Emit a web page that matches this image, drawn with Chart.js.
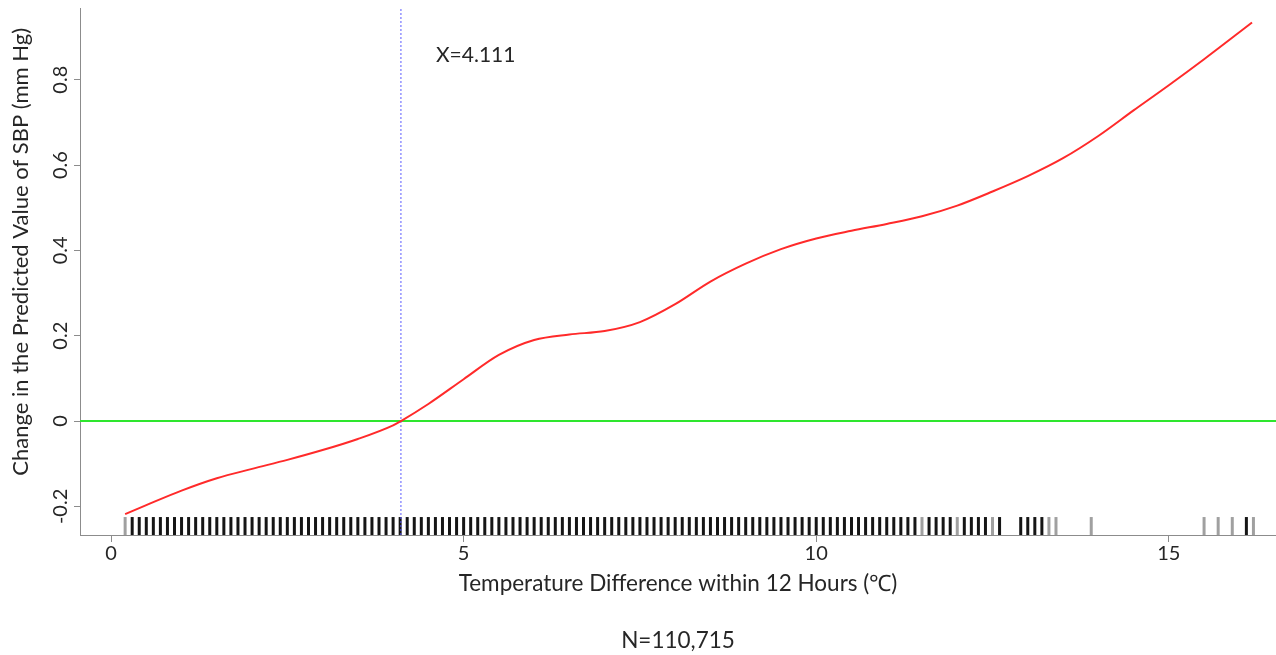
<!DOCTYPE html>
<html>
<head>
<meta charset="utf-8">
<script src="https://cdn.jsdelivr.net/npm/chart.js@4"></script>
<style>
  html, body { margin: 0; padding: 0; background: #fff; }
</style>
</head>
<body>
<canvas id="splineChart" width="1276" height="655"></canvas>
<script>
// fitted spline of SBP change vs 12h temperature difference
const CURVE_X = [0.2, 0.5, 1.0, 1.5, 2.0, 2.5, 3.0, 3.5, 4.0, 4.111, 4.5, 5.0, 5.5, 6.0, 6.5, 7.0, 7.5, 8.0, 8.5, 9.0, 9.5, 10.0, 10.5, 11.0, 11.5, 12.0, 12.5, 13.0, 13.5, 14.0, 14.5, 15.0, 15.5, 16.18];
const CURVE_Y = [-0.218, -0.197, -0.163, -0.134, -0.112, -0.091, -0.068, -0.042, -0.01, 0, 0.04, 0.098, 0.155, 0.19, 0.203, 0.211, 0.232, 0.274, 0.327, 0.369, 0.403, 0.428, 0.446, 0.462, 0.48, 0.505, 0.538, 0.574, 0.616, 0.668, 0.728, 0.787, 0.848, 0.934];

// observed temperature differences (rug)
const RUG_X = [
  0.2, 0.3, 0.4, 0.5, 0.6, 0.7, 0.8, 0.9, 1.0,
  1.1, 1.2, 1.3, 1.4, 1.5, 1.6, 1.7, 1.8, 1.9, 2.0,
  2.1, 2.2, 2.3, 2.4, 2.5, 2.6, 2.7, 2.8, 2.9, 3.0,
  3.1, 3.2, 3.3, 3.4, 3.5, 3.6, 3.7, 3.8, 3.9, 4.0,
  4.1, 4.2, 4.3, 4.4, 4.5, 4.6, 4.7, 4.8, 4.9, 5.0,
  5.1, 5.2, 5.3, 5.4, 5.5, 5.6, 5.7, 5.8, 5.9, 6.0,
  6.1, 6.2, 6.3, 6.4, 6.5, 6.6, 6.7, 6.8, 6.9, 7.0,
  7.1, 7.2, 7.3, 7.4, 7.5, 7.6, 7.7, 7.8, 7.9, 8.0,
  8.1, 8.2, 8.3, 8.4, 8.5, 8.6, 8.7, 8.8, 8.9, 9.0,
  9.1, 9.2, 9.3, 9.4, 9.5, 9.6, 9.7, 9.8, 9.9, 10.0,
  10.1, 10.2, 10.3, 10.4, 10.5, 10.6, 10.7, 10.8, 10.9, 11.0,
  11.1, 11.2, 11.3, 11.4, 11.5, 11.6, 11.7, 11.8, 11.9, 12.0,
  12.1, 12.2, 12.3, 12.4, 12.5, 12.6,
  12.9, 13.0, 13.1, 13.2, 13.3, 13.4, 13.9,
  15.5, 15.7, 15.9, 16.1, 16.2
];
// sparse values shown lighter
const RUG_LIGHT = [0.2, 11.5, 12.0, 12.5, 13.3, 13.4, 13.9, 15.5, 15.7, 15.9, 16.2];

const X_TICKS = [0, 5, 10, 15];
const Y_TICKS = [-0.2, 0, 0.2, 0.4, 0.6, 0.8];
const X_MIN = -0.44, X_MAX = 16.52;
const Y_MIN = -0.267, Y_MAX = 0.968;
const INFLECTION = 4.111;
const RUG_Y = -0.246;
const LABEL_Y = 0.858;
const SAMPLE_LABEL = "N=110,715";
const Y_TITLE = "Change in the Predicted Value of SBP (mm Hg)";

const FONT = "Lato";
const TEXT_COLOR = "#262626";
const AXIS_COLOR = "#8c8c8c";

const markerLabel = {
  id: "markerLabel",
  afterDatasetsDraw(chart) {
    const { ctx, scales } = chart;
    ctx.save();
    ctx.font = "21px " + FONT;
    ctx.fillStyle = TEXT_COLOR;
    ctx.textBaseline = "middle";
    ctx.fillText("X=" + INFLECTION, scales.x.getPixelForValue(INFLECTION) + 35, scales.y.getPixelForValue(LABEL_Y));
    ctx.restore();
  },
};

const ctx = document.getElementById("splineChart");
new Chart(ctx, {
  type: "scatter",
  data: {
    datasets: [
      {
        label: "curve",
        type: "line",
        data: CURVE_X.map((x, i) => ({ x: x, y: CURVE_Y[i] })),
        borderColor: "#ff2a2a",
        borderWidth: 2,
        pointRadius: 0,
        cubicInterpolationMode: "monotone",
        order: 0,
      },
      {
        label: "zero",
        type: "line",
        data: [{ x: X_MIN, y: 0 }, { x: X_MAX, y: 0 }],
        borderColor: "#2ee62e",
        borderWidth: 2,
        pointRadius: 0,
        order: 1,
      },
      {
        label: "cut",
        type: "line",
        data: [{ x: INFLECTION, y: Y_MIN }, { x: INFLECTION, y: Y_MAX }],
        borderColor: "#5a5aff",
        borderWidth: 1,
        borderDash: [2, 2],
        pointRadius: 0,
        order: 2,
      },
      {
        label: "rug",
        data: RUG_X.map((x) => ({ x: x, y: RUG_Y })),
        pointStyle: "line",
        rotation: 90,
        radius: 9,
        borderWidth: 3,
        borderColor: (c) => (c.raw && RUG_LIGHT.includes(c.raw.x) ? "#a0a0a0" : "#151515"),
        order: 3,
      },
    ],
  },
  options: {
    responsive: false,
    animation: false,
    layout: { autoPadding: false, padding: { top: 8, right: 0, left: 0, bottom: 0 } },
    plugins: {
      legend: { display: false },
      tooltip: { enabled: false },
    },
    scales: {
      x: {
        type: "linear",
        min: X_MIN,
        max: X_MAX,
        afterBuildTicks: (scale) => {
          scale.ticks = X_TICKS.map((v) => ({ value: v }));
        },
        afterFit: (scale) => {
          scale.height = 120;
          scale.paddingLeft = 0;
          scale.paddingRight = 0;
        },
        grid: { drawOnChartArea: false, drawTicks: true, tickLength: 7, color: AXIS_COLOR },
        border: { display: true, color: AXIS_COLOR, width: 1 },
        ticks: {
          padding: 0,
          color: TEXT_COLOR,
          font: { family: FONT, size: 20 },
          callback: (v) => String(v),
        },
        title: {
          display: true,
          text: ["Temperature Difference within 12 Hours (\u2103)", "", SAMPLE_LABEL],
          color: TEXT_COLOR,
          font: { family: FONT, size: 22.5, lineHeight: "28.5px" },
          padding: { top: 0, bottom: 0 },
        },
      },
      y: {
        type: "linear",
        min: Y_MIN,
        max: Y_MAX,
        afterBuildTicks: (scale) => {
          scale.ticks = Y_TICKS.map((v) => ({ value: v }));
        },
        afterFit: (scale) => {
          scale.width = 80;
          scale.paddingTop = 0;
          scale.paddingBottom = 0;
        },
        grid: { drawOnChartArea: false, drawTicks: true, tickLength: 6, color: AXIS_COLOR },
        border: { display: true, color: AXIS_COLOR, width: 1 },
        ticks: {
          minRotation: 90,
          maxRotation: 90,
          crossAlign: "center",
          padding: -4,
          color: TEXT_COLOR,
          font: { family: FONT, size: 20 },
          callback: (v) => String(v),
        },
        title: {
          display: true,
          // leading spaces lift the rotated title a little above the axis middle
          text: "\u00a0".repeat(7) + Y_TITLE,
          color: TEXT_COLOR,
          font: { family: FONT, size: 22 },
          padding: { top: 8, bottom: 0 },
        },
      },
    },
  },
  plugins: [markerLabel],
});
</script>
</body>
</html>
